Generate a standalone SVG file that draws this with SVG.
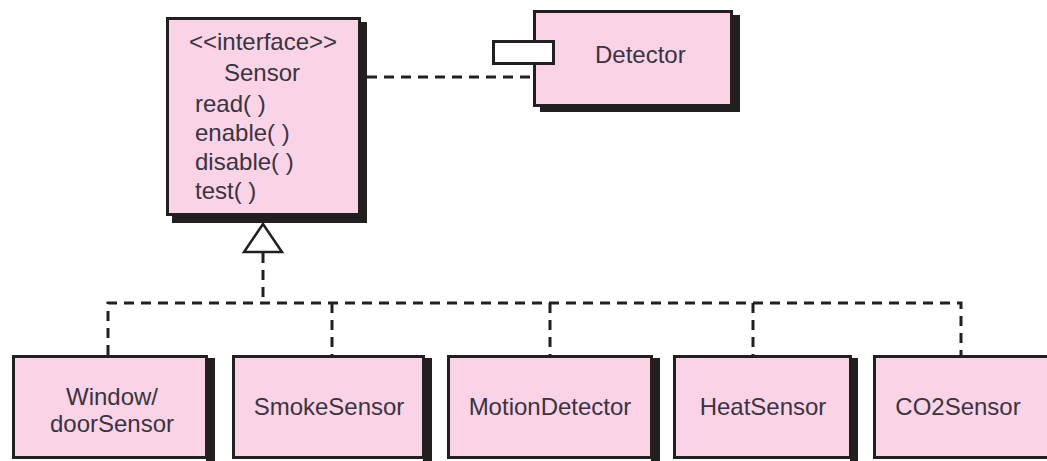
<svg xmlns="http://www.w3.org/2000/svg" width="1047" height="461" viewBox="0 0 1047 461">
<style>
.box{fill:#fad3e6;stroke:#231f20;stroke-width:3}
.shadow{fill:#231f20}
.t{font-family:"Liberation Sans",Arial,sans-serif;font-size:24px;fill:#3b3340}
.c{text-anchor:middle}
.dash{fill:none;stroke:#231f20;stroke-width:3;stroke-dasharray:10 7}
</style>
<rect width="1047" height="461" fill="#ffffff"/>
<g id="connectors">
<line class="dash" x1="367" y1="77" x2="533" y2="77"/>
<line class="dash" x1="263" y1="253" x2="263" y2="303"/>
<polyline class="dash" points="108,355 108,303 961,303 961,355"/>
<line class="dash" x1="332" y1="303" x2="332" y2="355"/>
<line class="dash" x1="550" y1="303" x2="550" y2="355"/>
<line class="dash" x1="753" y1="303" x2="753" y2="355"/>
<polygon points="263,224 244,252 282,252" fill="#ffffff" stroke="#231f20" stroke-width="2.5" stroke-linejoin="miter"/>
</g>
<g id="sensor">
<rect class="shadow" x="172" y="22" width="195" height="201"/>
<rect class="box" x="167.5" y="18.5" width="192" height="196"/>
<text class="t c" x="263" y="50">&lt;&lt;interface&gt;&gt;</text>
<text class="t c" x="262" y="81">Sensor</text>
<text class="t" x="195" y="112">read( )</text>
<text class="t" x="195" y="141">enable( )</text>
<text class="t" x="195" y="170">disable( )</text>
<text class="t" x="195" y="199">test( )</text>
</g>
<g id="detector">
<rect class="shadow" x="540" y="15" width="200" height="97"/>
<rect class="box" x="534.5" y="11.5" width="197" height="94"/>
<rect x="493.5" y="41.5" width="60" height="22" fill="#ffffff" stroke="#231f20" stroke-width="3"/>
<text class="t" x="595" y="63">Detector</text>
</g>
<g id="window-door-sensor">
<rect class="shadow" x="206" y="358" width="9" height="110"/>
<rect class="box" x="13.5" y="356.5" width="193" height="101"/>
<text class="t c" x="112" y="405">Window/</text>
<text class="t c" x="112" y="432">doorSensor</text>
</g>
<g id="smoke-sensor">
<rect class="shadow" x="423" y="358" width="9" height="110"/>
<rect class="box" x="233.5" y="356.5" width="190" height="101"/>
<text class="t c" x="329" y="415">SmokeSensor</text>
</g>
<g id="motion-detector">
<rect class="shadow" x="651" y="358" width="9" height="110"/>
<rect class="box" x="448.5" y="356.5" width="203" height="101"/>
<text class="t c" x="550" y="415">MotionDetector</text>
</g>
<g id="heat-sensor">
<rect class="shadow" x="850" y="358" width="8" height="110"/>
<rect class="box" x="674.5" y="356.5" width="176" height="101"/>
<text class="t c" x="763" y="415">HeatSensor</text>
</g>
<g id="co2-sensor">
<rect class="box" x="874.5" y="356.5" width="180" height="101"/>
<text class="t c" x="958" y="415">CO2Sensor</text>
</g>
</svg>
